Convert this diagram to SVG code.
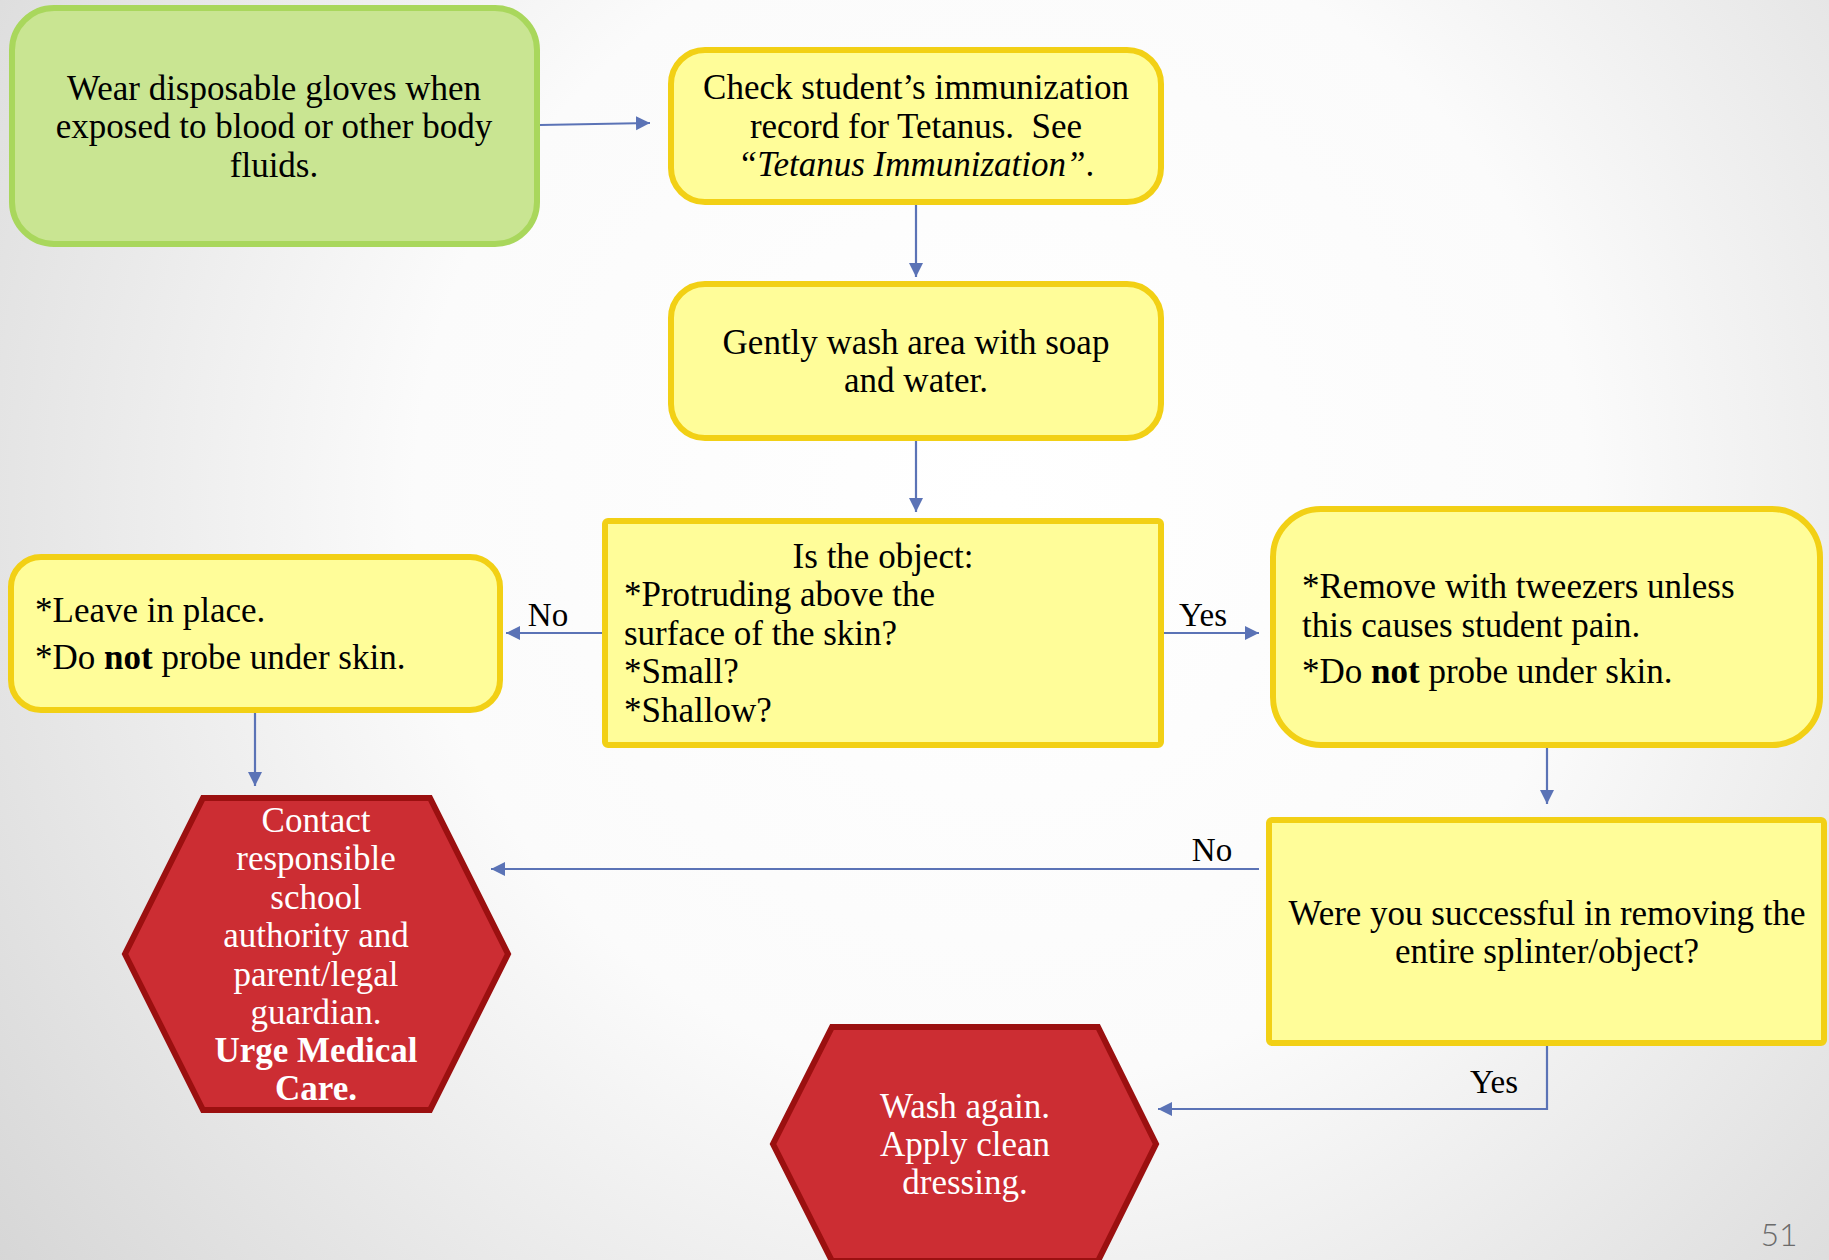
<svg xmlns="http://www.w3.org/2000/svg" width="1829" height="1260" viewBox="0 0 1829 1260">
<defs>
<radialGradient id="bg" cx="1000" cy="500" r="1300" gradientUnits="userSpaceOnUse">
<stop offset="0" stop-color="#ffffff"/>
<stop offset="0.45" stop-color="#fbfbfb"/>
<stop offset="1" stop-color="#d4d4d4"/>
</radialGradient>
<marker id="ah" markerUnits="userSpaceOnUse" markerWidth="16" markerHeight="16" refX="14" refY="7" orient="auto">
<path d="M0,0 L14,7 L0,14 z" fill="#5B73B6"/>
</marker>
<style>
.t{font-family:"Liberation Serif","Times New Roman",serif;font-size:35px;fill:#000}
.c{text-anchor:middle}
.w{fill:#fff}
.b{font-weight:bold}
.lbl{font-family:"Liberation Serif","Times New Roman",serif;font-size:33px;fill:#000}
.green{fill:#C9E592;stroke:#A9D75C;stroke-width:6}
.yel{fill:#FFFD99;stroke:#F2D015;stroke-width:6}
.red{fill:#CC2D33;stroke:#9B1010;stroke-width:6;stroke-linejoin:miter}
.conn{stroke:#5B73B6;stroke-width:2.2;fill:none;marker-end:url(#ah)}
</style>
</defs>
<rect x="0" y="0" width="1829" height="1260" fill="url(#bg)"/>

<g id="connectors">
<line class="conn" x1="540" y1="125" x2="650" y2="123"/>
<line class="conn" x1="916" y1="205" x2="916" y2="277"/>
<line class="conn" x1="916" y1="441" x2="916" y2="512"/>
<line class="conn" x1="602" y1="633" x2="506" y2="633"/>
<text class="lbl c" x="548" y="626">No</text>
<line class="conn" x1="1164" y1="633" x2="1259" y2="633"/>
<text class="lbl c" x="1203" y="626">Yes</text>
<line class="conn" x1="255" y1="713" x2="255" y2="786"/>
<line class="conn" x1="1547" y1="748" x2="1547" y2="804"/>
<line class="conn" x1="1259" y1="869" x2="491" y2="869"/>
<text class="lbl c" x="1212" y="861">No</text>
<polyline class="conn" points="1547,1046 1547,1109 1158,1109"/>
<text class="lbl c" x="1494" y="1093">Yes</text>
</g>

<g id="gloves">
<rect class="green" x="12" y="8" width="525" height="236" rx="42"/>
<text class="t c" x="274" y="100">Wear disposable gloves when</text>
<text class="t c" x="274" y="138">exposed to blood or other body</text>
<text class="t c" x="274" y="177">fluids.</text>
</g>

<g id="check">
<rect class="yel" x="671" y="50" width="490" height="152" rx="34"/>
<text class="t c" x="916" y="99">Check student’s immunization</text>
<text class="t c" x="916" y="138" xml:space="preserve">record for Tetanus.  See</text>
<text class="t c" x="916" y="176"><tspan font-style="italic">“Tetanus Immunization”</tspan>.</text>
</g>

<g id="wash">
<rect class="yel" x="671" y="284" width="490" height="154" rx="34"/>
<text class="t c" x="916" y="354">Gently wash area with soap</text>
<text class="t c" x="916" y="392">and water.</text>
</g>

<g id="question">
<rect class="yel" x="605" y="521" width="556" height="224" rx="3"/>
<text class="t c" x="883" y="568">Is the object:</text>
<text class="t" x="624" y="606">*Protruding above the</text>
<text class="t" x="624" y="645">surface of the skin?</text>
<text class="t" x="624" y="683">*Small?</text>
<text class="t" x="624" y="722">*Shallow?</text>
</g>

<g id="leave">
<rect class="yel" x="11" y="557" width="489" height="153" rx="30"/>
<text class="t" x="35" y="622">*Leave in place.</text>
<text class="t" x="35" y="669">*Do <tspan class="b">not</tspan> probe under skin.</text>
</g>

<g id="remove">
<rect class="yel" x="1273" y="509" width="547" height="236" rx="48"/>
<text class="t" x="1302" y="598">*Remove with tweezers unless</text>
<text class="t" x="1302" y="637">this causes student pain.</text>
<text class="t" x="1302" y="683">*Do <tspan class="b">not</tspan> probe under skin.</text>
</g>

<g id="success">
<rect class="yel" x="1269" y="820" width="555" height="223" rx="3"/>
<text class="t c" x="1547" y="925">Were you successful in removing the</text>
<text class="t c" x="1547" y="963">entire splinter/object?</text>
</g>

<g id="contact">
<polygon class="red" points="203,798 430,798 508,954 430,1110 203,1110 125,954"/>
<text class="t c w" x="316" y="832">Contact</text>
<text class="t c w" x="316" y="870">responsible</text>
<text class="t c w" x="316" y="909">school</text>
<text class="t c w" x="316" y="947">authority and</text>
<text class="t c w" x="316" y="986">parent/legal</text>
<text class="t c w" x="316" y="1024">guardian.</text>
<text class="t c w b" x="316" y="1062">Urge Medical</text>
<text class="t c w b" x="316" y="1100">Care.</text>
</g>

<g id="washagain">
<polygon class="red" points="832,1027 1098,1027 1156,1144 1098,1261 832,1261 773,1144"/>
<text class="t c w" x="965" y="1118">Wash again.</text>
<text class="t c w" x="965" y="1156">Apply clean</text>
<text class="t c w" x="965" y="1194">dressing.</text>
</g>

<text x="1779" y="1246" text-anchor="middle" font-family="Lato, 'DejaVu Sans', sans-serif" font-size="32" font-weight="300" fill="#6b6b6b">51</text>
</svg>
